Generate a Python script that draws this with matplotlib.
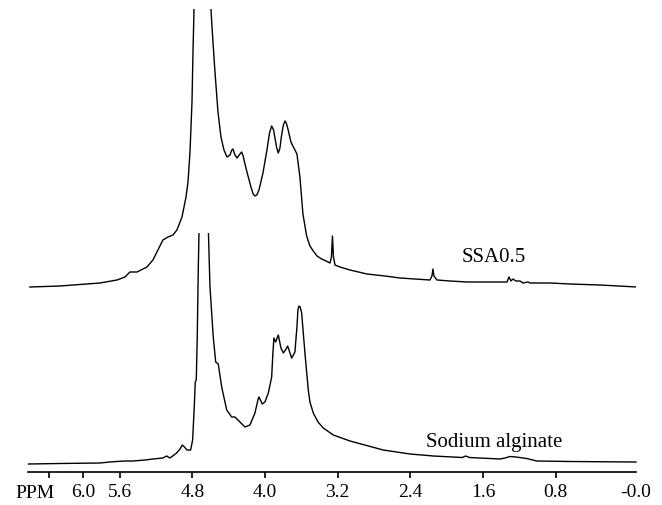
import matplotlib.pyplot as plt
from matplotlib.patches import Rectangle

plt.rcParams['font.family'] = ['Liberation Serif', 'DejaVu Serif']

# SSA0.5 spectrum (ppm, intensity)
ssa_ppm = [6.587, 6.256, 5.816, 5.629, 5.541, 5.486, 5.409, 5.299, 5.233, 5.178,
           5.123, 5.067, 5.012, 4.969, 4.913, 4.869, 4.847, 4.825, 4.803, 4.792,
           4.781, 4.693, 4.594, 4.572, 4.550, 4.517, 4.484, 4.451, 4.418, 4.385,
           4.365, 4.352, 4.335, 4.308, 4.275, 4.256, 4.240, 4.220, 4.198, 4.154,
           4.130, 4.110, 4.090, 4.066, 4.022, 3.978, 3.950, 3.926, 3.905, 3.890,
           3.870, 3.853, 3.835, 3.818, 3.800, 3.780, 3.765, 3.747, 3.714, 3.681,
           3.648, 3.615, 3.582, 3.541, 3.505, 3.468, 3.427, 3.376, 3.328, 3.284,
           3.268, 3.257, 3.246, 3.229, 3.174, 3.064, 2.877, 2.679, 2.514, 2.349,
           2.184, 2.162, 2.151, 2.140, 2.107, 1.964, 1.777, 1.523, 1.336, 1.314,
           1.292, 1.270, 1.237, 1.193, 1.160, 1.105, 1.083, 0.863, 0.643, 0.313,
           -0.094]
ssa_int = [185, 186, 189, 192, 195, 200, 200, 205, 212, 222,
           232, 235, 237, 242, 255, 275, 290, 320, 370, 420,
           462, 1500, 462, 430, 400, 360, 335, 322, 315, 317,
           322, 323, 318, 314, 318, 320, 316, 308, 300, 285,
           278, 276, 277, 282, 299, 322, 339, 346, 342, 334,
           324, 319, 324, 336, 346, 351, 349, 343, 330, 324,
           318, 295, 258, 236, 226, 221, 216, 213, 211, 209,
           215, 236, 215, 207, 205, 202, 198, 196, 194, 193,
           192, 196, 203, 196, 192, 191, 190, 190, 190, 195,
           191, 193, 191, 191, 189, 190, 189, 189, 188, 187,
           185]

# Sodium alginate spectrum (ppm, intensity)
na_ppm = [6.602, 6.256, 5.816, 5.706, 5.629, 5.541, 5.453, 5.320, 5.233, 5.123,
          5.082, 5.045, 4.972, 4.935, 4.910, 4.886, 4.858, 4.818, 4.796, 4.778,
          4.767, 4.756, 4.745, 4.734, 4.726, 4.677, 4.622, 4.605, 4.569, 4.542,
          4.514, 4.476, 4.421, 4.366, 4.330, 4.275, 4.220, 4.165, 4.110, 4.075,
          4.066, 4.050, 4.030, 4.000, 3.963, 3.926, 3.912, 3.901, 3.882, 3.853,
          3.824, 3.798, 3.774, 3.750, 3.706, 3.670, 3.648, 3.637, 3.626, 3.612,
          3.596, 3.560, 3.523, 3.505, 3.468, 3.416, 3.358, 3.248, 3.064, 2.698,
          2.404, 2.147, 1.830, 1.790, 1.750, 1.413, 1.358, 1.303, 1.237, 1.119,
          1.009, 0.643, -0.054, -0.084]
na_int = [8, 8.5, 9, 10, 10.5, 11, 11, 12, 13, 14,
          16, 14, 19, 23, 27, 25, 22, 22, 32, 65,
          90, 92, 135, 202, 239, 900, 239, 185, 135, 110,
          108, 85, 62, 55, 55, 50, 45, 47, 59, 73,
          75, 72, 68, 70, 79, 95, 120, 134, 130, 137,
          124, 119, 122, 126, 114, 120, 145, 162, 166, 165,
          159, 119, 82, 70, 59, 50, 44, 37, 31, 22,
          18, 16, 14.5, 16, 14.5, 13, 14, 15.5, 15, 13.5,
          11, 10.5, 10, 10]

tick_pos = [6.38, 6.0, 5.6, 4.8, 4.0, 3.2, 2.4, 1.6, 0.8, -0.084]
tick_lab = ['', '6.0', '5.6', '4.8', '4.0', '3.2', '2.4', '1.6', '0.8', '-0.0']

fig = plt.figure(figsize=(6.62, 5.05), dpi=100)
ax = fig.add_axes([28 / 662, 33 / 505, 608 / 662, 463 / 505])

ax.plot(ssa_ppm, ssa_int, color='black', lw=1.0)
line, = ax.plot(na_ppm, na_int, color='black', lw=1.0)
# lower trace is cut off at its own height
line.set_clip_path(Rectangle((-0.2, -10), 7.0, 249, transform=ax.transData))

ax.set_xlim(6.608, -0.084)
ax.set_ylim(0, 463)

for s in ['left', 'right', 'top']:
    ax.spines[s].set_visible(False)
ax.spines['bottom'].set_linewidth(1.2)
ax.set_yticks([])

ax.set_xticks(tick_pos)
ax.set_xticklabels(tick_lab, fontsize=14)
ax.tick_params(axis='x', direction='out', length=4.5, width=1.2, pad=4)
ax.xaxis.get_major_ticks()[-1].tick1line.set_visible(False)

ax.text(6.535, -21, 'PPM', fontsize=14, ha='center', va='center', clip_on=False)
ax.text(1.479, 214, 'SSA0.5', fontsize=15, ha='center', va='center')
ax.text(1.479, 29, 'Sodium alginate', fontsize=15, ha='center', va='center')

fig.savefig('out.png', dpi=100)
